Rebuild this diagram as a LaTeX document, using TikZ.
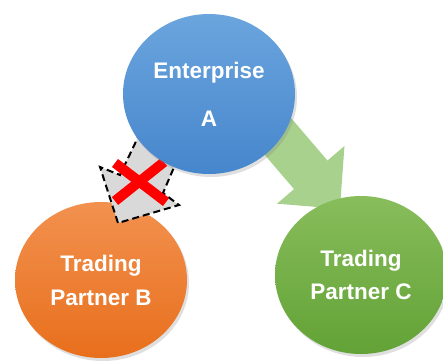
\documentclass[tikz,border=0pt]{standalone}
\usepackage{fontspec}
\setmainfont{Liberation Sans}
\usetikzlibrary{shapes.geometric,arrows.meta,shadows}
\definecolor{blueTop}{HTML}{6BA5DE}
\definecolor{blueBot}{HTML}{4686CC}
\definecolor{orangeTop}{HTML}{F2914F}
\definecolor{orangeBot}{HTML}{E86F1C}
\definecolor{greenTop}{HTML}{88BD5B}
\definecolor{greenBot}{HTML}{62A236}
\definecolor{arrowGreen}{HTML}{A9D18E}
\definecolor{blockGray}{HTML}{D9D9D9}
\pgfdeclarelayer{back}
\pgfdeclarelayer{mid}
\pgfsetlayers{back,mid,main}
\begin{document}
\begin{tikzpicture}[x=1pt, y=-1pt,
		party node/.style={ellipse, inner sep=0pt, minimum width=172pt, text=white, align=center,
			font=\fontsize{22.5}{27}\selectfont\bfseries,
			drop shadow={shadow xshift=2pt, shadow yshift=-3pt, opacity=0.25}},
		green arrow/.style={line width=44pt, arrowGreen, -{Triangle[width=86pt,length=45pt]}},
		blocked arrow/.style={fill=blockGray, draw=black, line width=2pt, dash pattern=on 7pt off 4pt, line join=miter},
		cross line/.style={red, line width=10pt}]
	\useasboundingbox (0,0) rectangle (443,362);
	
	\node[party node, minimum height=160pt, top color=blueTop, bottom color=blueBot] (A) at (209,94) {Enterprise\\[21pt]A};
	\node[party node, minimum height=158pt, top color=greenTop, bottom color=greenBot] (C) at (361,275) {Trading\\[6pt]Partner C};
	\begin{pgfonlayer}{back}
		\node[party node, minimum height=156pt, top color=orangeTop, bottom color=orangeBot] (B) at (101,280) {Trading\\[7pt]Partner B};
	\end{pgfonlayer}
	
	\begin{pgfonlayer}{mid}
		% allowed flow A -> C
		\draw[green arrow] ([shift={(30,-3)}]A.center) -- ([shift={(-21,-66)}]C.center);
		% blocked flow A -> B
		\draw[blocked arrow] (150,112) -- (120,175) -- (100,167) -- (118,223) -- (179,205)
			-- (163,193) -- (187,137) -- cycle;
		\draw[cross line] (115,163) -- (166,202);
		\draw[cross line] (164,162) -- (115,201);
	\end{pgfonlayer}
\end{tikzpicture}
\end{document}
